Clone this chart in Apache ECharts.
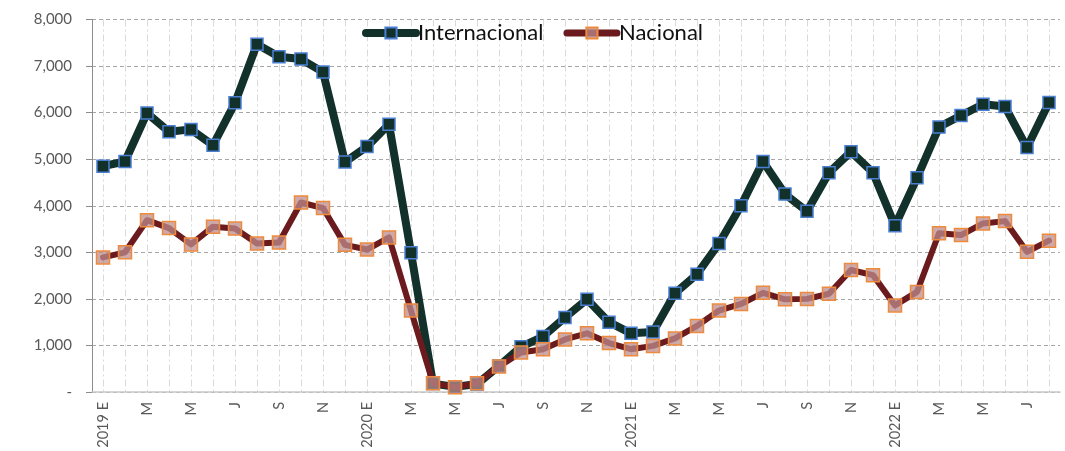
<!DOCTYPE html>
<html>
<head>
<meta charset="utf-8">
<script src="https://cdn.jsdelivr.net/npm/echarts@6/dist/echarts.min.js"></script>
<style>
  html, body { margin: 0; padding: 0; background: #fff; }
  #chart { width: 1065px; height: 451px; }
</style>
</head>
<body>
<div id="chart"></div>
<script>
// meses: E F M A M J J A S O N D
var monthLetters = ['E', 'F', 'M', 'A', 'M', 'J', 'J', 'A', 'S', 'O', 'N', 'D'];
var years = [2019, 2020, 2021, 2022];
var monthsIn2022 = 8;

var internacional = [4850, 4950, 5990, 5590, 5640, 5300, 6210, 7470, 7200, 7150, 6870, 4940,
  5270, 5750, 2990, 180, 110, 170, 560, 970, 1190, 1600, 1990, 1500,
  1260, 1290, 2120, 2530, 3190, 4000, 4950, 4250, 3880, 4710, 5160, 4710,
  3570, 4600, 5690, 5940, 6180, 6130, 5250, 6220];

var nacional = [2890, 3000, 3690, 3520, 3170, 3550, 3510, 3190, 3210, 4070, 3950, 3160,
  3060, 3320, 1750, 190, 100, 190, 550, 850, 920, 1130, 1260, 1050,
  920, 990, 1150, 1420, 1750, 1890, 2130, 1990, 2000, 2110, 2620, 2510,
  1860, 2150, 3410, 3370, 3620, 3670, 3010, 3250];

var categories = [];
years.forEach(function (y) {
  var n = (y === 2022) ? monthsIn2022 : 12;
  for (var m = 0; m < n; m++) {
    categories.push(m === 0 ? y + ' E' : monthLetters[m]);
  }
});

var chart = echarts.init(document.getElementById('chart'));
var FONT = 'Lato';

chart.setOption({
  animation: false,
  textStyle: { fontFamily: FONT },
  legend: {
    top: 17,
    left: 'center',
    itemWidth: 50,
    itemHeight: 14,
    itemGap: 20,
    textStyle: { fontFamily: FONT, fontSize: 22, color: '#111', padding: [0, 0, 0, -3] },
    data: [
      { name: 'Internacional', lineStyle: { width: 8 } },
      { name: 'Nacional', lineStyle: { width: 7 } }
    ]
  },
  grid: { left: 92, right: 5, top: 19.5, bottom: 59 },
  xAxis: {
    type: 'category',
    data: categories,
    boundaryGap: true,
    axisLine: { lineStyle: { color: '#c8c8c8', width: 1.5 } },
    axisTick: { show: false },
    axisLabel: {
      interval: 1,
      rotate: 90,
      margin: 10,
      color: '#595959',
      fontSize: 14.5,
      fontFamily: FONT
    },
    splitLine: {
      show: true,
      interval: 0,
      alignWithLabel: true,
      lineStyle: { color: '#dadada', type: [7, 3, 2, 3], width: 1 }
    }
  },
  yAxis: {
    type: 'value',
    min: 0,
    max: 8000,
    interval: 1000,
    axisLine: { show: true, lineStyle: { color: '#8c8c8c', width: 1 } },
    axisTick: { show: true, length: 6, lineStyle: { color: '#8c8c8c' } },
    axisLabel: {
      margin: 20,
      color: '#595959',
      fontSize: 15,
      fontFamily: FONT,
      formatter: function (v) { return v === 0 ? '-' : v.toLocaleString('en-US'); }
    },
    splitLine: {
      lineStyle: { color: '#a6a6a6', type: [4, 3], width: 1 }
    }
  },
  series: [
    {
      name: 'Internacional',
      type: 'line',
      data: internacional,
      symbol: 'rect',
      symbolSize: 12,
      lineStyle: { color: '#12312b', width: 8, cap: 'round', join: 'round' },
      itemStyle: { color: '#12312b', borderColor: '#4a7fd4', borderWidth: 1.5 },
      z: 2
    },
    {
      name: 'Nacional',
      type: 'line',
      data: nacional,
      symbol: 'rect',
      symbolSize: 13,
      lineStyle: { color: '#6b1a1e', width: 6, cap: 'round', join: 'round' },
      itemStyle: { color: 'rgba(190,140,140,0.75)', borderColor: '#ee8a3c', borderWidth: 1.5 },
      z: 3
    }
  ]
});
</script>
</body>
</html>
